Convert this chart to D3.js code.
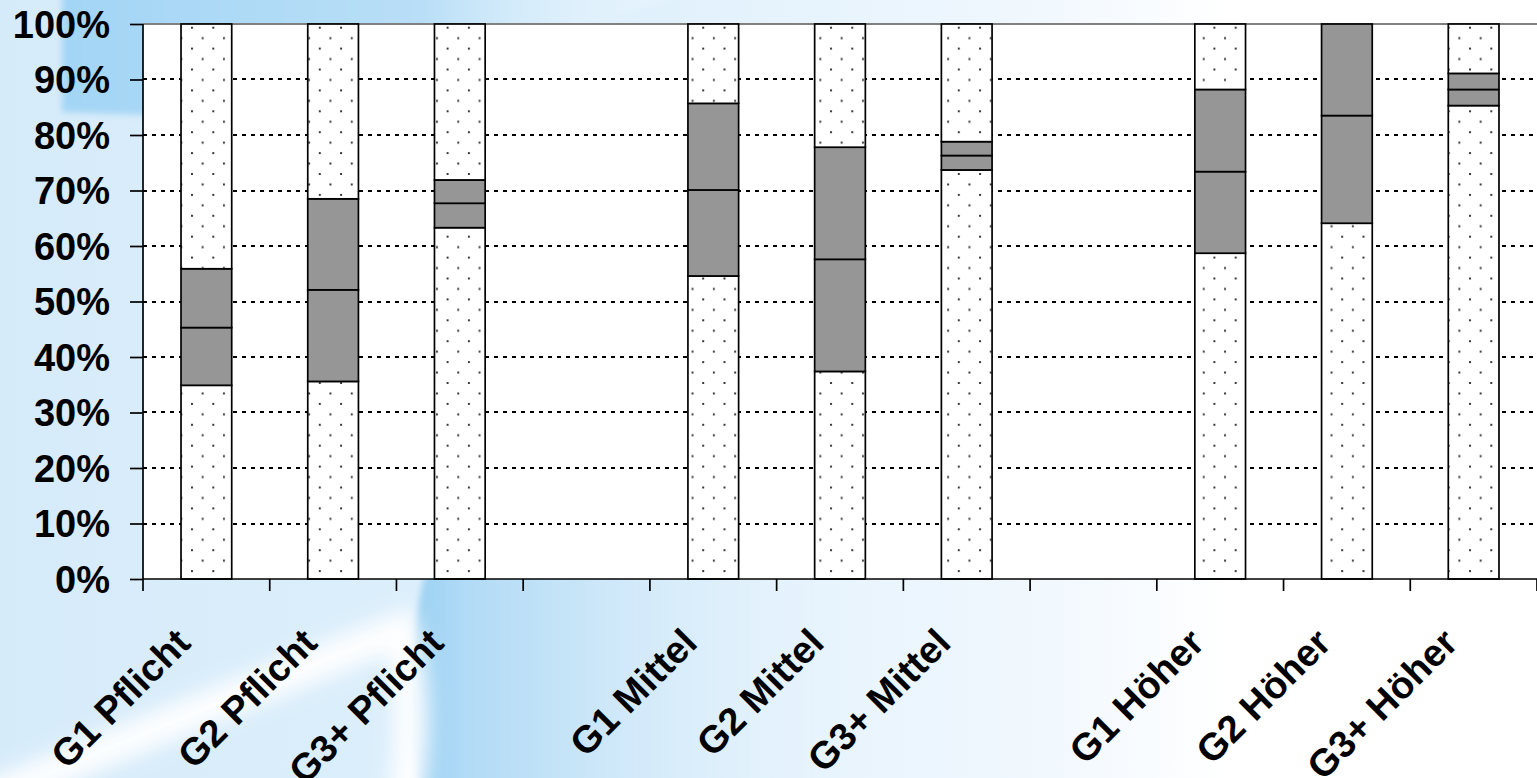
<!DOCTYPE html>
<html>
<head>
<meta charset="utf-8">
<script src="https://cdn.jsdelivr.net/npm/d3@7"></script>
<style>
  html, body { margin: 0; padding: 0; overflow: hidden; background: #fff; }
  svg { display: block; }
  text { font-family: "Liberation Sans", Arial, sans-serif; font-weight: bold; fill: #000; }
</style>
</head>
<body>
<div id="chart"></div>
<script>
// categories along the x axis, "" = empty slot between the groups
const categories = ["G1 Pflicht", "G2 Pflicht", "G3+ Pflicht", "",
                    "G1 Mittel", "G2 Mittel", "G3+ Mittel", "",
                    "G1 Höher", "G2 Höher", "G3+ Höher"];
// boundaries of the grey box (percent), null for empty slots
const lowerBound = [34.9, 35.6, 63.3, null, 54.6, 37.4, 73.7, null, 58.7, 64.1, 85.3];
const middleLine = [45.3, 52.1, 67.7, null, 70.1, 57.6, 76.3, null, 73.4, 83.5, 88.2];
const upperBound = [55.9, 68.5, 71.9, null, 85.7, 77.8, 78.8, null, 88.2, 100.0, 91.1];
const yTicks = [0, 10, 20, 30, 40, 50, 60, 70, 80, 90, 100];

var W = 1537, H = 778;
var margin = {left: 143, right: 0, top: 24, bottom: 199};

var svg = d3.select("#chart").append("svg")
    .attr("width", W).attr("height", H);

var defs = svg.append("defs");

/*** background ***/
var bg = defs.append("linearGradient").attr("id", "bgGrad")
    .attr("x1", 0).attr("y1", 0).attr("x2", 1).attr("y2", 0);
bg.append("stop").attr("offset", 0).attr("stop-color", "#d6ebfa");
bg.append("stop").attr("offset", 0.4).attr("stop-color", "#dff0fc");
bg.append("stop").attr("offset", 0.68).attr("stop-color", "#f1f8fe");
bg.append("stop").attr("offset", 0.8).attr("stop-color", "#ffffff");

var blob = defs.append("linearGradient").attr("id", "blobGrad")
    .attr("x1", 0).attr("y1", 0).attr("x2", 1).attr("y2", 0);
blob.append("stop").attr("offset", 0).attr("stop-color", "#99d0f2");
blob.append("stop").attr("offset", 0.1).attr("stop-color", "#b2dbf6");
blob.append("stop").attr("offset", 0.35).attr("stop-color", "#cfe8f9");
blob.append("stop").attr("offset", 0.75).attr("stop-color", "#e6f3fc").attr("stop-opacity", 0);

var topGrad = defs.append("linearGradient").attr("id", "topGrad")
    .attr("x1", 0).attr("y1", 0).attr("x2", 1).attr("y2", 0);
topGrad.append("stop").attr("offset", 0).attr("stop-color", "#a3d5f5");
topGrad.append("stop").attr("offset", 0.55).attr("stop-color", "#b9dff7");
topGrad.append("stop").attr("offset", 1).attr("stop-color", "#ffffff").attr("stop-opacity", 0);

defs.append("filter").attr("id", "blur").attr("x", -0.5).attr("y", -0.5).attr("width", 2).attr("height", 2)
  .append("feGaussianBlur").attr("stdDeviation", 10);
defs.append("filter").attr("id", "blurS").attr("x", -0.5).attr("y", -0.5).attr("width", 2).attr("height", 2)
  .append("feGaussianBlur").attr("stdDeviation", 3);

var back = svg.append("g");
back.append("rect").attr("width", W).attr("height", H).attr("fill", "url(#bgGrad)");
// blue band at the top left
back.append("path")
    .attr("d", "M62,-20 L720,-20 L560,40 L300,80 L143,115 L62,112 Z")
    .attr("fill", "url(#topGrad)").attr("filter", "url(#blurS)");
// big sphere at the bottom
back.append("ellipse")
    .attr("cx", 702).attr("cy", 700).attr("rx", 292).attr("ry", 400)
    .attr("fill", "url(#blobGrad)").attr("filter", "url(#blurS)");
// white swoosh
back.append("path")
    .attr("d", "M-40,810 Q200,710 400,630 Q420,700 405,800")
    .attr("fill", "none").attr("stroke", "#ffffff").attr("stroke-width", 34)
    .attr("opacity", 0.95).attr("filter", "url(#blur)");

/*** dot pattern ***/
var pat = defs.append("pattern").attr("id", "dots")
    .attr("patternUnits", "userSpaceOnUse")
    .attr("width", 21.3).attr("height", 20.9)
    .attr("x", 191).attr("y", 26.7);
pat.append("rect").attr("width", 21.3).attr("height", 20.9).attr("fill", "#fff");
pat.append("rect").attr("x", 0).attr("y", 0).attr("width", 2).attr("height", 2).attr("fill", "#3a3a3a");
pat.append("rect").attr("x", 10.65).attr("y", 10.45).attr("width", 2).attr("height", 2).attr("fill", "#3a3a3a");

/*** scales ***/
var x = d3.scaleBand()
    .domain(d3.range(categories.length))
    .range([margin.left, W - margin.right])
    .paddingInner(0.6)
    .paddingOuter(0.3);

var y = d3.scaleLinear()
    .domain([0, 100])
    .range([H - margin.bottom, margin.top]);

var step = x.step();

// plot area
svg.append("rect")
    .attr("x", margin.left).attr("y", y(100))
    .attr("width", W - margin.right - margin.left)
    .attr("height", y(0) - y(100))
    .attr("fill", "#fff");

// dashed grid lines
svg.append("g").selectAll("line")
    .data(yTicks.filter(function(d) { return d > 0 && d < 100; }))
    .enter().append("line")
    .attr("x1", margin.left).attr("x2", W - margin.right)
    .attr("y1", function(d) { return Math.round(y(d)); })
    .attr("y2", function(d) { return Math.round(y(d)); })
    .attr("stroke", "#000").attr("stroke-width", 2)
    .attr("shape-rendering", "crispEdges")
    .attr("stroke-dasharray", "4,5");

// top border
svg.append("line")
    .attr("x1", margin.left).attr("x2", W - margin.right)
    .attr("y1", y(100)).attr("y2", y(100))
    .attr("stroke", "#808080").attr("stroke-width", 2);

/*** bars ***/
var barData = [];
categories.forEach(function(c, i) {
    if (lowerBound[i] == null) { return; }
    var bounds = [0, lowerBound[i], middleLine[i], upperBound[i], 100];
    for (var k = 0; k < 4; k++) {
        if (bounds[k + 1] - bounds[k] <= 0) { continue; }
        barData.push({
            idx: i, y0: bounds[k], y1: bounds[k + 1],
            dotted: (k === 0 || k === 3)
        });
    }
});

svg.append("g").selectAll("rect")
    .data(barData)
    .enter().append("rect")
    .attr("x", function(d) { return x(d.idx); })
    .attr("width", x.bandwidth())
    .attr("y", function(d) { return y(d.y1); })
    .attr("height", function(d) { return y(d.y0) - y(d.y1); })
    .attr("fill", function(d) { return d.dotted ? "url(#dots)" : "#969696"; })
    .attr("stroke", "#000")
    .attr("stroke-width", 1.7);

/*** y axis ***/
var yAxis = d3.axisLeft(y)
    .tickValues(yTicks)
    .tickSize(13)
    .tickPadding(20)
    .tickFormat(function(d) { return d + "%"; });

var gy = svg.append("g")
    .attr("transform", "translate(" + margin.left + ",0)")
    .call(yAxis);
gy.select(".domain").attr("stroke", "#000").attr("stroke-width", 1.7)
    .attr("d", "M0," + y(100) + "V" + y(0));
gy.selectAll(".tick line").attr("stroke", "#000").attr("stroke-width", 1.7);
gy.selectAll(".tick text")
    .attr("font-size", 38)
    .attr("font-family", "'Liberation Sans', Arial, sans-serif")
    .attr("font-weight", "bold")
    .attr("dy", "0.35em");

/*** x axis ***/
var gx = svg.append("g");
gx.append("line")
    .attr("x1", margin.left).attr("x2", W - margin.right)
    .attr("y1", y(0)).attr("y2", y(0))
    .attr("stroke", "#000").attr("stroke-width", 1.7);

gx.selectAll(".xtick")
    .data(d3.range(categories.length + 1))
    .enter().append("line")
    .attr("class", "xtick")
    .attr("x1", function(i) { return margin.left + i * step; })
    .attr("x2", function(i) { return margin.left + i * step; })
    .attr("y1", y(0)).attr("y2", y(0) + 12)
    .attr("stroke", "#000").attr("stroke-width", 1.7);

gx.selectAll(".xlabel")
    .data(categories.map(function(c, i) { return {label: c, idx: i}; })
        .filter(function(d) { return d.label !== ""; }))
    .enter().append("text")
    .attr("class", "xlabel")
    .attr("text-anchor", "end")
    .attr("font-size", 38)
    .attr("transform", function(d) {
        var cx = x(d.idx) + x.bandwidth() / 2 - 14;
        return "translate(" + cx + "," + (y(0) + 66) + ") rotate(-45)";
    })
    .text(function(d) { return d.label; });
</script>
</body>
</html>
